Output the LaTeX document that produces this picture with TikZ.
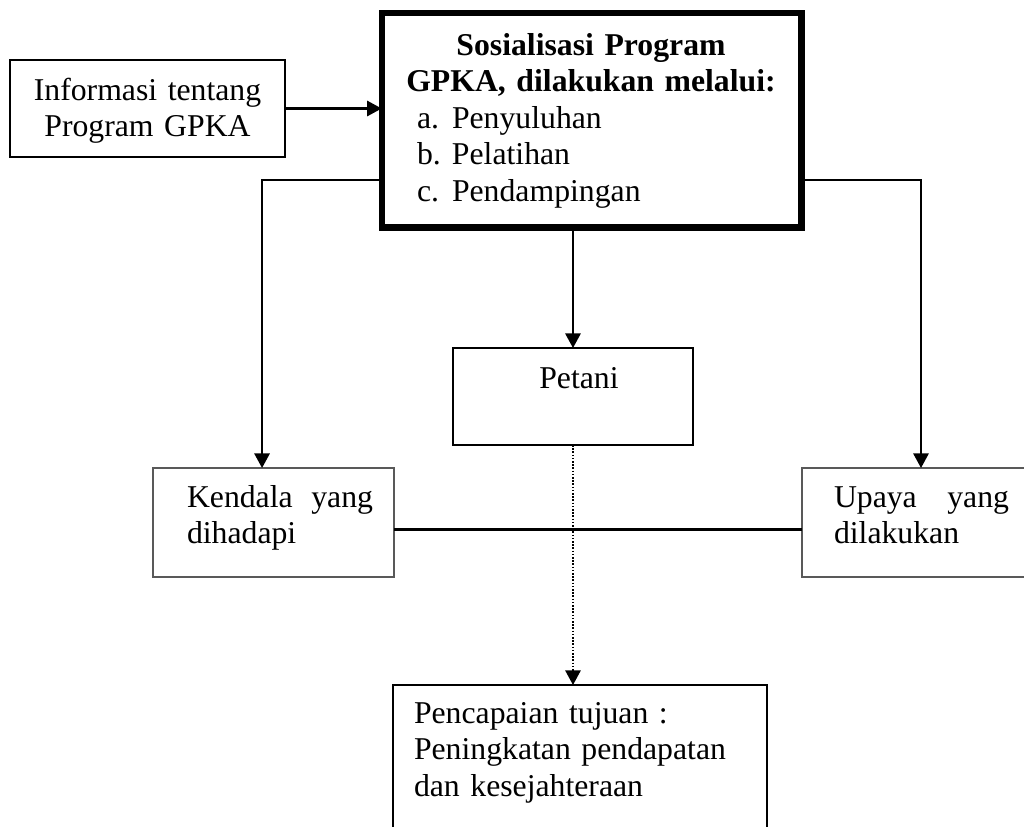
\documentclass[tikz,border=0pt]{standalone}
\usepackage{fontspec}
\setmainfont{Liberation Serif}
\usetikzlibrary{arrows.meta,calc}
\begin{document}
\begin{tikzpicture}[x=0.75pt,y=-0.75pt,
  every node/.style={inner sep=0pt, outer sep=0pt, font=\fontsize{23.8}{27.6}\selectfont},
  box/.style={draw, line width=1.5pt, rectangle},
  bigbox/.style={draw, line width=4.8pt, rectangle},
  thinbox/.style={draw=black!65, line width=0.9pt, rectangle},
  conn/.style={line width=1.6pt},
  tip/.style={-{Triangle[length=11pt,width=11.5pt]}},
  arr/.style={conn, tip},
  dotline/.style={line width=1.4pt, dash pattern=on 1.2pt off 1.2pt},
  lefttext/.style={align=left, anchor=base west},
  centertext/.style={align=center, anchor=base}]
\useasboundingbox (0,0) rectangle (1024,826);
\clip (0,0) rectangle (1024,826);

% boxes
\node[box, minimum width=275*0.75pt, minimum height=97*0.75pt] (info) at (147.5,108.5) {};
\node[bigbox, minimum width=419.8*0.75pt, minimum height=214.3*0.75pt] (top) at (591.6,120.2) {};
\node[box, minimum width=240*0.75pt, minimum height=97*0.75pt] (petani) at (573,396.5) {};
\node[thinbox, minimum width=241*0.75pt, minimum height=109*0.75pt] (kendala) at (273.5,522.5) {};
\node[thinbox, minimum width=238*0.75pt, minimum height=109*0.75pt] (upaya) at (921,522.5) {};
\node[box, minimum width=374*0.75pt, minimum height=175*0.75pt] (hasil) at (580,772.5) {};

% texts
\node[centertext, text width=275*0.75pt] (infotxt) at (147.5,100) {Informasi tentang\\Program GPKA};
\node[centertext, text width=410*0.75pt, font=\fontsize{23.8}{27.6}\selectfont\bfseries] (title) at (591,55) {Sosialisasi Program\\GPKA, dilakukan melalui:};
\node[lefttext, text width=330*0.75pt] (list) at (417,128) {\makebox[26.25pt][l]{a.}Penyuluhan\\\makebox[26.25pt][l]{b.}Pelatihan\\\makebox[26.25pt][l]{c.}Pendampingan};
\node[centertext] (petanitxt) at (579,388) {Petani};
\node[lefttext, text width=186*0.75pt] (kendalatxt) at (187,507) {Kendala\hfill yang\\dihadapi};
\node[lefttext, text width=175*0.75pt] (upayatxt) at (834,507) {Upaya\hfill yang\\dilakukan};
\node[lefttext, text width=345*0.75pt] (hasiltxt) at (414,723) {Pencapaian tujuan :\\Peningkatan pendapatan\\dan kesejahteraan};

% connectors
\draw[arr] (info.east) -- (info.east -| top.west);
\draw[arr] ($(top.west)+(0,60)$) -| ([xshift=-8.6pt]kendala.north);
\draw[arr] ($(top.east)+(0,60)$) -| (upaya.north);
\draw[arr] (petani.north |- top.south) -- (petani.north);
\draw[conn] ($(kendala.east)+(0,7)$) -- ($(upaya.west)+(0,7)$);
\draw[dotline, tip] (petani.south) -- (petani.south |- hasil.north);
\end{tikzpicture}
\end{document}
